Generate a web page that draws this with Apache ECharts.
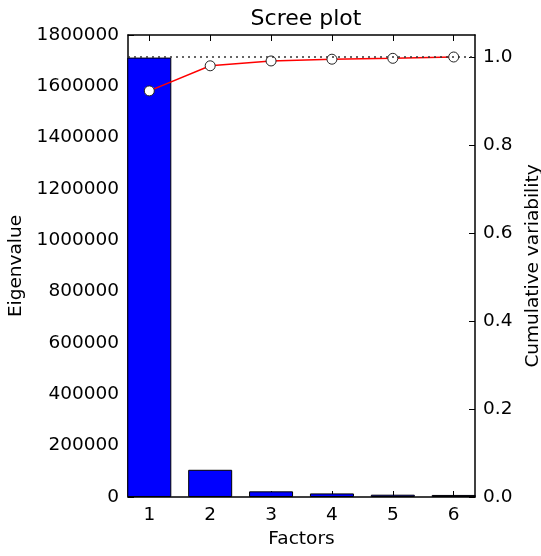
<!DOCTYPE html>
<html>
<head>
<meta charset="utf-8">
<script src="https://cdn.jsdelivr.net/npm/echarts@6/dist/echarts.min.js"></script>
<style>
html, body { margin: 0; padding: 0; background: #fff; }
#scree { width: 541px; height: 556px; }
</style>
</head>
<body>
<div id="scree"></div>
<script>
// factors and values
var factors = [1, 2, 3, 4, 5, 6];
var eigenvalues = [1712000, 106000, 22000, 14000, 9000, 8000];
var cumulative = [0.923, 0.980, 0.991, 0.995, 0.997, 1.0];

var FONT = 'DejaVu Sans';
var FS = 18.5;
var barData = [];
var lineData = [];
for (var i = 0; i < factors.length; i++) {
	barData.push([factors[i], eigenvalues[i]]);
	lineData.push([factors[i], cumulative[i]]);
}

var chart = echarts.init(document.getElementById('scree'));

var xCommon = {
	type: 'value',
	min: 0.65,
	max: 6.35,
	axisLine: { show: true, onZero: false, lineStyle: { color: '#000', width: 1.5 } },
	axisTick: { show: true, inside: true, length: 6, customValues: factors, lineStyle: { color: '#000' } },
	splitLine: { show: false }
};

chart.setOption({
	animation: false,
	title: {
		text: 'Scree plot',
		left: 301,
		top: 3,
		textAlign: 'center',
		textStyle: { fontFamily: FONT, fontSize: 22, fontWeight: 'normal', color: '#000' }
	},
	grid: { left: 128, right: 66, top: 35, bottom: 59, outerBoundsMode: 'none', containLabel: false },
	xAxis: [
		Object.assign({}, xCommon, {
			position: 'bottom',
			name: 'Factors',
			nameLocation: 'middle',
			nameGap: 33,
			nameTextStyle: { fontFamily: FONT, fontSize: FS, color: '#000' },
			axisLabel: { customValues: factors, margin: 9, fontFamily: FONT, fontSize: FS, color: '#000' }
		}),
		Object.assign({}, xCommon, {
			position: 'top',
			axisLabel: { show: false, customValues: factors }
		})
	],
	yAxis: [
		{
			type: 'value',
			min: 0,
			max: 1800000,
			interval: 200000,
			position: 'left',
			name: 'Eigenvalue',
			nameLocation: 'middle',
			nameRotate: 90,
			nameGap: 97,
			nameTextStyle: { fontFamily: FONT, fontSize: FS, color: '#000' },
			axisLine: { show: true, lineStyle: { color: '#000', width: 1.5 } },
			axisTick: { show: true, inside: true, length: 6, lineStyle: { color: '#000' } },
			axisLabel: {
				margin: 9, fontFamily: FONT, fontSize: FS, color: '#000',
				formatter: function (v) { return String(v); }
			},
			splitLine: { show: false }
		},
		{
			type: 'value',
			min: 0,
			max: 1.05,
			interval: 0.2,
			position: 'right',
			name: 'Cumulative variability',
			nameLocation: 'middle',
			nameRotate: 90,
			nameGap: 39,
			nameTextStyle: { fontFamily: FONT, fontSize: FS, color: '#000' },
			axisLine: { show: true, lineStyle: { color: '#000', width: 1.5 } },
			axisTick: { show: true, inside: true, length: 6, lineStyle: { color: '#000' } },
			axisLabel: {
				margin: 8, fontFamily: FONT, fontSize: FS, color: '#000',
				showMaxLabel: false,
				formatter: function (v) { return v > 1.01 ? '' : v.toFixed(1); }
			},
			splitLine: { show: false }
		}
	],
	series: [
		{
			name: 'Eigenvalue',
			type: 'bar',
			xAxisIndex: 0,
			yAxisIndex: 0,
			barWidth: 44,
			data: barData,
			itemStyle: { color: '#0000ff', borderColor: '#000', borderWidth: 1 },
			z: 2
		},
		{
			name: 'Cumulative variability',
			type: 'line',
			xAxisIndex: 0,
			yAxisIndex: 1,
			data: lineData,
			symbol: 'circle',
			symbolSize: 10,
			lineStyle: { color: '#ff0000', width: 1.5 },
			itemStyle: { color: '#fff', borderColor: '#222', borderWidth: 1 },
			markLine: {
				silent: true,
				symbol: ['none', 'none'],
				label: { show: false },
				lineStyle: { color: '#333', type: [2, 4], width: 1.5 },
				data: [{ yAxis: 1 }]
			},
			z: 3
		}
	]
});
</script>
</body>
</html>
